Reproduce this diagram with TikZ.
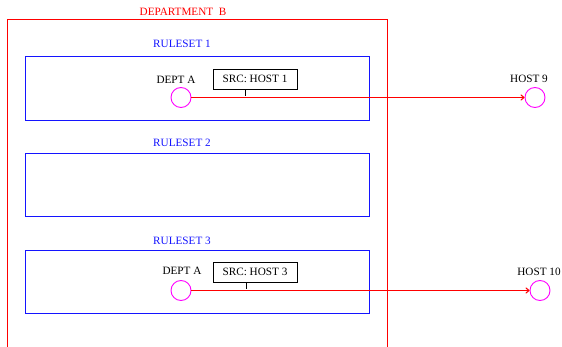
\documentclass[tikz,border=0pt]{standalone}
\usepackage{fontspec}
\setmainfont{Liberation Serif}
\usetikzlibrary{arrows.meta}
\definecolor{deptred}{RGB}{255,0,0}
\definecolor{ruleblue}{RGB}{20,20,255}
\definecolor{pin}{RGB}{255,0,255}
\begin{document}
\begin{tikzpicture}[x=1pt,y=-1pt,
  lbl/.style={inner sep=0pt,font=\fontsize{11.2}{12}\selectfont},
  rulebox/.style={color=ruleblue,line width=1pt},
  host/.style={draw=pin,circle,minimum size=20pt,inner sep=0pt,line width=0.9pt},
  srcbox/.style={draw=black,inner sep=1pt,font=\fontsize{11.2}{12}\selectfont,line width=0.8pt,minimum height=20pt,minimum width=84pt},
  link/.style={color=deptred,line width=1.1pt,-{To[length=4pt,width=6pt]}}]
\useasboundingbox (0,0) rectangle (562,347);
% labels
\node[lbl,text=deptred] (dept) at (183,12) {DEPARTMENT\ \ B};
\node[lbl,text=ruleblue] (r1) at (182,44) {RULESET 1};
\node[lbl,text=ruleblue] (r2) at (182,143) {RULESET 2};
\node[lbl,text=ruleblue] (r3) at (182,241) {RULESET 3};
\node[lbl] (a1l) at (176,80) {DEPT A};
\node[lbl] (h9l) at (529,79) {HOST 9};
\node[lbl] (a3l) at (182,271) {DEPT A};
\node[lbl] (h10l) at (539,272) {HOST 10};
% department frame, open at the bottom
\draw[color=deptred,line width=1.1pt] (7.5,350) -- (7.5,19.5) -- (387.5,19.5) -- (387.5,350);
% rulesets
\draw[rulebox] (25.5,56.5) rectangle (369.5,120.5);
\draw[rulebox] (25.5,153.5) rectangle (369.5,216.5);
\draw[rulebox] (25.5,250.5) rectangle (369.5,313.5);
% hosts
\node[host] (a1) at (181,97.5) {};
\node[host] (h9) at (535,97.5) {};
\node[host] (a3) at (181,290.5) {};
\node[host] (h10) at (540,290.5) {};
% connections
\draw[link] (a1) -- (h9);
\draw[link] (a3) -- (h10);
% source tags
\node[srcbox] (s1) at (255,79) {SRC: HOST 1};
\coordinate (t1) at (s1.south -| 245.5,0);
\draw[line width=0.8pt] (t1) -- ++(0,7);
\node[srcbox] (s3) at (255,272) {SRC: HOST 3};
\coordinate (t3) at (s3.south -| 246.5,0);
\draw[line width=0.8pt] (t3) -- ++(0,7);
\end{tikzpicture}
\end{document}
